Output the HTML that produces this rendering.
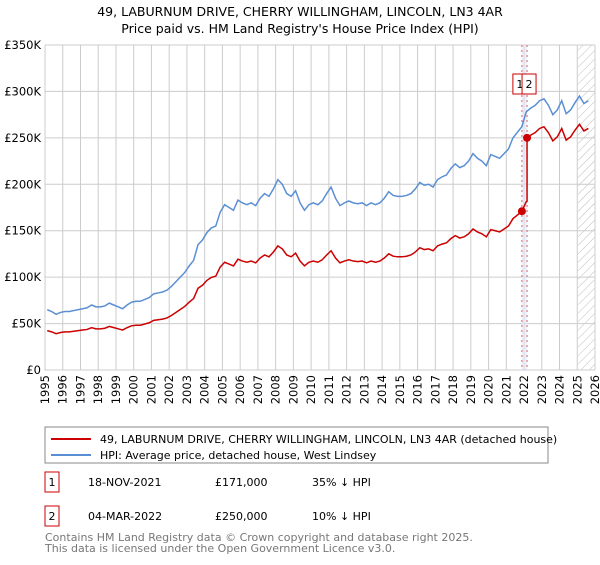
<!DOCTYPE html>
<html><head><meta charset="utf-8"><style>
body{margin:0;background:#fff;font-family:"Liberation Sans","DejaVu Sans",sans-serif;}
svg text{font-family:"DejaVu Sans","Liberation Sans",sans-serif;}
</style></head><body>
<svg id="c" width="600" height="560" viewBox="0 0 600 560" xmlns="http://www.w3.org/2000/svg">
<defs><pattern id="hatch" width="6" height="6" patternUnits="userSpaceOnUse" patternTransform="rotate(45)"><line x1="0" y1="0" x2="0" y2="6" stroke="#bbb" stroke-width="1"/></pattern></defs>
<text x="300" y="16" text-anchor="middle" font-size="12.5" fill="#000">49, LABURNUM DRIVE, CHERRY WILLINGHAM, LINCOLN, LN3 4AR</text>
<text x="300" y="33" text-anchor="middle" font-size="12.5" fill="#000">Price paid vs. HM Land Registry's House Price Index (HPI)</text>
<g id="grid"></g><g id="marks"></g><g id="axes"></g>
<rect x="45" y="427" width="503" height="36" fill="#fff" stroke="#888"/>
<line x1="51" y1="439" x2="91" y2="439" stroke="#cc0000" stroke-width="2"/>
<text x="100" y="443" font-size="11">49, LABURNUM DRIVE, CHERRY WILLINGHAM, LINCOLN, LN3 4AR (detached house)</text>
<line x1="51" y1="455" x2="91" y2="455" stroke="#5b8fd4" stroke-width="2"/>
<text x="100" y="459" font-size="11">HPI: Average price, detached house, West Lindsey</text>
<rect x="45" y="472" width="14" height="20" fill="#fff" stroke="#cc0000"/>
<text x="52" y="486" text-anchor="middle" font-size="11">1</text>
<text x="88" y="486" font-size="11">18-NOV-2021</text>
<text x="215" y="486" font-size="11">£171,000</text>
<text x="312" y="486" font-size="11">35% ↓ HPI</text>
<rect x="45" y="506" width="14" height="20" fill="#fff" stroke="#cc0000"/>
<text x="52" y="520" text-anchor="middle" font-size="11">2</text>
<text x="88" y="520" font-size="11">04-MAR-2022</text>
<text x="215" y="520" font-size="11">£250,000</text>
<text x="312" y="520" font-size="11">10% ↓ HPI</text>
<text x="45" y="541" font-size="11" fill="#777">Contains HM Land Registry data © Crown copyright and database right 2025.</text>
<text x="45" y="552" font-size="11" fill="#777">This data is licensed under the Open Government Licence v3.0.</text>
</svg>
<script>
const yTicks=[0,50000,100000,150000,200000,250000,300000,350000];
const yTickLabels=["£0","£50K","£100K","£150K","£200K","£250K","£300K","£350K"];
const xYears=[1995,1996,1997,1998,1999,2000,2001,2002,2003,2004,2005,2006,2007,2008,2009,2010,2011,2012,2013,2014,2015,2016,2017,2018,2019,2020,2021,2022,2023,2024,2025,2026];
const hpiStart=1995;
const hpiValues=[65,63,60,62,63,63,64,65,66,67,70,68,68,69,72,70,68,66,70,73,74,74,76,78,82,83,84,86,90,95,100,105,112,118,135,140,148,153,155,170,178,175,172,183,180,178,180,177,185,190,187,195,205,200,190,187,193,180,172,178,180,178,182,190,197,185,177,180,182,180,179,180,177,180,178,180,185,192,188,187,187,188,190,195,202,199,200,197,205,208,210,217,222,218,220,225,233,228,225,220,232,230,228,233,238,250,256,262,278,282,285,290,292,285,275,280,290,276,280,288,295,287,290];
const saleDates=[2021.88,2022.17];
const salePrices=[171000,250000];
const saleLabels=["1","2"];
const X0=45,X1=595,Y0=370,Y1=45;
const xs=y=>X0+(y-1995)/(2026-1995)*(X1-X0);
const ys=v=>Y0-v/350000*(Y0-Y1);
const NS="http://www.w3.org/2000/svg";
function mk(tag,attrs,parent){const e=document.createElementNS(NS,tag);for(const k in attrs)e.setAttribute(k,attrs[k]);parent.appendChild(e);return e;}
const grid=document.getElementById('grid'),marks=document.getElementById('marks'),axes=document.getElementById('axes');
let r=mk('rect',{x:xs(2025.05),y:Y1,width:X1-xs(2025.05),height:Y0-Y1,fill:'url(#hatch)'},grid);


yTicks.forEach((t,i)=>{
 let l=mk('line',{x1:X0,x2:X1,y1:ys(t),y2:ys(t),stroke:'#ccc'},grid);
 
 
 let tx=mk('text',{x:X0-4,y:ys(t)+4,'text-anchor':'end','font-size':'11.5'},axes);tx.textContent=yTickLabels[i];
 
 
});
xYears.forEach(yr=>{
 let l=mk('line',{x1:xs(yr),x2:xs(yr),y1:Y1,y2:Y0,stroke:'#ccc'},grid);
 
 
 let tx=mk('text',{x:0,y:0,'text-anchor':'end','font-size':'11.5',transform:`translate(${xs(yr)+4},${Y0+5}) rotate(-90)`},axes);tx.textContent=yr;
 
 
});
let ax=mk('path',{d:`M${X0},${Y1}V${Y0}H${X1}V${Y1}`,fill:'none',stroke:'#ccc'},axes);


let band=mk('rect',{x:xs(saleDates[0]),y:Y1,width:xs(saleDates[1])-xs(saleDates[0]),height:Y0-Y1,fill:'#dde8f7',opacity:0.6},grid);


saleDates.forEach((d,i)=>{
 let l=mk('line',{x1:xs(d),x2:xs(d),y1:Y1,y2:Y0,stroke:'#e06060','stroke-dasharray':'2,3'},grid);
 
 
});
const hpiT=hpiValues.map((v,i)=>hpiStart+i*0.25+0.125);
const hpiAt=d=>{for(let i=0;i<hpiT.length-1;i++){if(d>=hpiT[i]&&d<=hpiT[i+1]){const f=(d-hpiT[i])/(hpiT[i+1]-hpiT[i]);return (hpiValues[i]+f*(hpiValues[i+1]-hpiValues[i]))*1000;}}return hpiValues[hpiValues.length-1]*1000;};
const r1=salePrices[0]/hpiAt(saleDates[0]),r2=salePrices[1]/hpiAt(saleDates[1]);
const hpiPts=hpiT.map((t,i)=>[xs(t),ys(hpiValues[i]*1000)]);
let hp=mk('polyline',{points:hpiPts.map(p=>p.join(',')).join(' '),fill:'none',stroke:'#5b8fd4','stroke-width':1.5},marks);


const redPts=[];
hpiT.forEach((t,i)=>{
 const v=hpiValues[i]*1000;
 if(t<saleDates[0])redPts.push([xs(t),ys(v*r1)]);
 else if(t<saleDates[1]){if(redPts.length&&redPts[redPts.length-1][0]<xs(saleDates[0]))redPts.push([xs(saleDates[0]),ys(salePrices[0])]);redPts.push([xs(t),ys(v*r1)]);}
 else{if(redPts[redPts.length-1][0]<xs(saleDates[1])){redPts.push([xs(saleDates[1]),ys(hpiAt(saleDates[1])*r1)]);redPts.push([xs(saleDates[1]),ys(salePrices[1])]);}redPts.push([xs(t),ys(v*r2)]);}
});
let rp=mk('polyline',{points:redPts.map(p=>p.join(',')).join(' '),fill:'none',stroke:'#cc0000','stroke-width':1.5},marks);


saleDates.forEach((d,i)=>{
 let c=mk('circle',{cx:xs(d),cy:ys(salePrices[i]),r:4,fill:'#cc0000'},marks);
 
 
 let b=mk('rect',{x:xs(d)-(i?5:9),y:74,width:14,height:20,fill:'#fff',stroke:'#cc0000'},marks);
 
 
 let t=mk('text',{x:xs(d)+(i?2:-2),y:88,'text-anchor':'middle','font-size':'11'},marks);t.textContent=saleLabels[i];
 
 
});
</script>
</body></html>
